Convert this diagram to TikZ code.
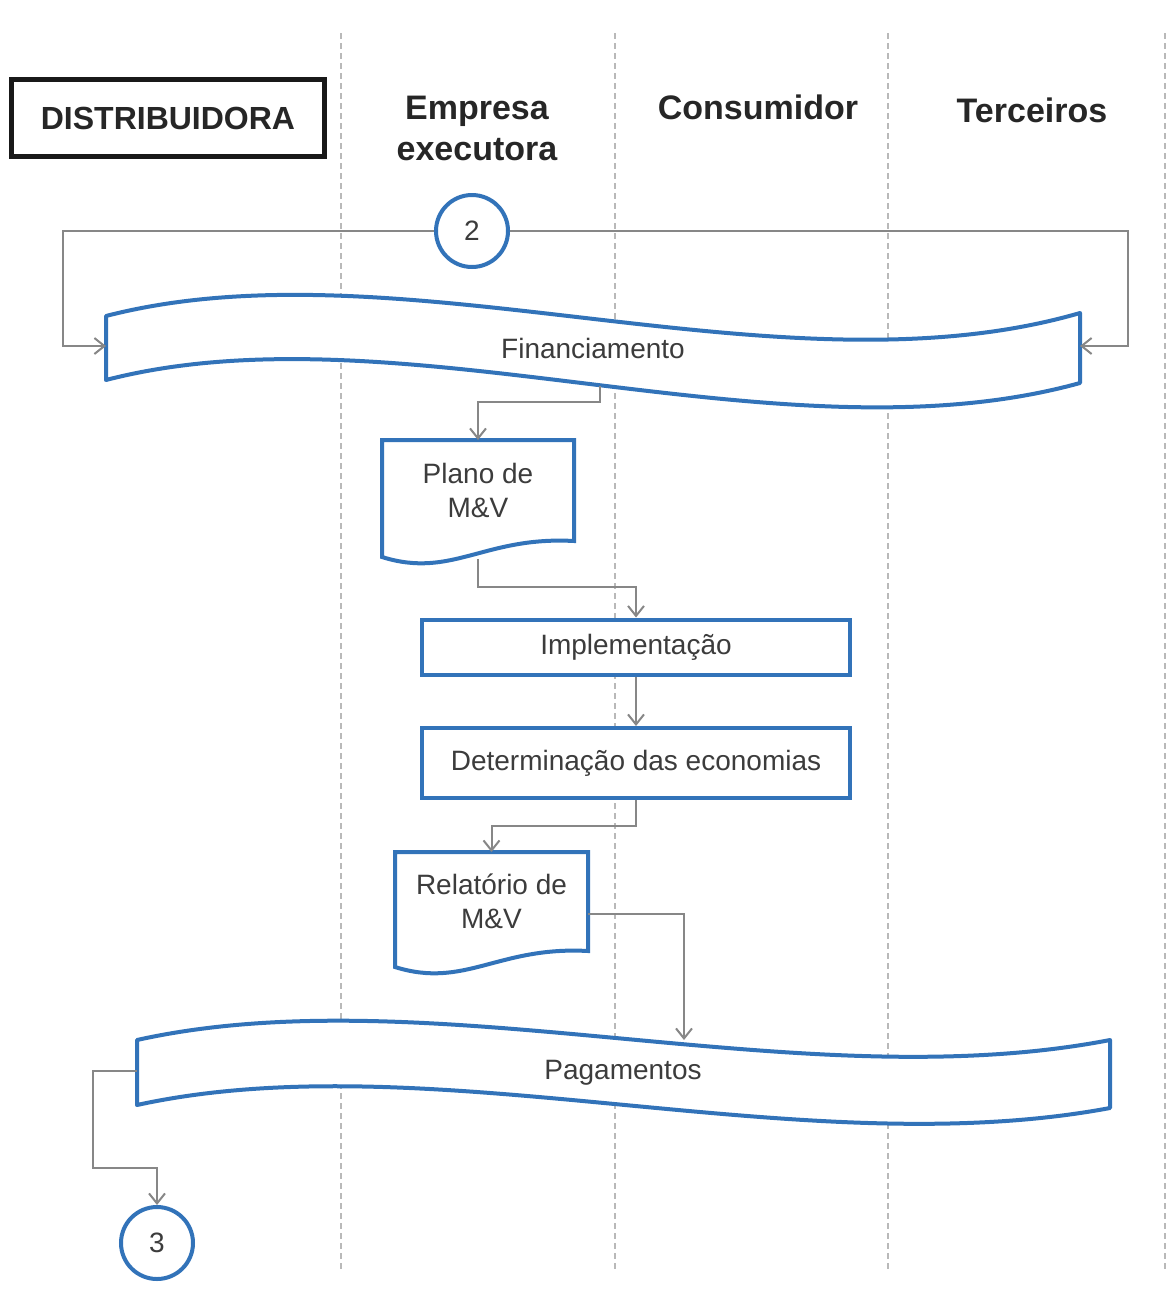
\documentclass[tikz,border=0pt]{standalone}
\usepackage{fontspec}
\setmainfont{Liberation Sans}
\usetikzlibrary{arrows.meta}
\definecolor{flowblue}{RGB}{50,115,185}
\definecolor{linegray}{RGB}{135,135,135}
\definecolor{textgray}{RGB}{60,60,60}
\tikzset{
  lane/.style={draw=gray!55, line width=1.5pt, dash pattern=on 6pt off 4pt},
  title/.style={font=\bfseries\fontsize{34}{41}\selectfont, text=black!85},
  titlebox/.style={title, draw=black!90, line width=5pt, minimum width=313pt, minimum height=77pt, font=\bfseries\fontsize{32}{38}\selectfont},
  lbl/.style={font=\fontsize{28}{34}\selectfont, text=textgray},
  band/.style={draw=flowblue, line width=4pt, fill=white, line join=round},
  box/.style={draw=flowblue, line width=4pt, fill=white},
  proc/.style={box, lbl, rectangle, minimum width=428pt, minimum height=55pt},
  conn/.style={circle, draw=flowblue, line width=4pt, fill=white, minimum size=72pt, inner sep=0pt, font=\fontsize{28}{32}\selectfont, text=textgray},
  flow/.style={draw=linegray, line width=2pt, -{Straight Barb[length=10pt,width=16pt]}}
}
\newcommand{\lane}[1]{\draw[lane] (#1,33) -- (#1,1272);}
% document shape: name, left, top, right, bottom, text
\newcommand{\docbox}[6]{%
  \draw[box] (#2,#3) -- (#4,#3) -- (#4,#5-16) .. controls (#4-90,#5-21) and (#2+70,#5+22) .. (#2,#5) -- cycle;
  \node[lbl, align=center] (#1) at ({(#2+#4)/2},{(#3+#5)/2-8}) {#6};
  \coordinate (#1-n) at ({(#2+#4)/2},#3);
  \coordinate (#1-s) at ({(#2+#4)/2},#5+2);
  \coordinate (#1-e) at (#4,{(#3+#5)/2+4});}

\begin{document}
\begin{tikzpicture}[x=1pt,y=-1pt]
\useasboundingbox (0,0) rectangle (1169,1312);
% swimlane separators
\lane{341} \lane{615} \lane{888} \lane{1165}
% lane headers
\node[titlebox] (distr) at (168,118) {DISTRIBUIDORA};
\node[title, align=center] (empr) at (477,128) {Empresa\\executora};
\node[title] (cons) at (758,107) {Consumidor};
\node[title] (terc) at (1032,110) {Terceiros};
% connector 2
\node[conn] (c2) at (472,231) {2};
% financing band
\draw[band] (106,316) .. controls (400,240) and (780,400) .. (1080,313) -- (1080,383) .. controls (780,466) and (400,304) .. (106,380) -- cycle;
\node[lbl] (fin) at (593,348) {Financiamento};
\coordinate (fin-w) at (106,346);
\coordinate (fin-e) at (1080,346);
\coordinate (fin-s) at (600,386);
% documents and steps
\docbox{plano}{382}{440}{574}{557}{Plano de\\M\&V}
\node[proc] (impl) at (636,647) {Implementação};
\node[proc, minimum height=70pt] (det) at (636,763) {Determinação das economias};
\docbox{rel}{395}{852}{588}{967}{Relatório de\\M\&V}
% payments band
\draw[band] (137,1040) .. controls (430,975) and (800,1100) .. (1110,1040) -- (1110,1108) .. controls (800,1166) and (430,1041) .. (137,1105) -- cycle;
\node[lbl] (pag) at (623,1073) {Pagamentos};
\coordinate (pag-w) at (137,1071);
\coordinate (pag-n) at (684,1040);
% connector 3
\node[conn] (c3) at (157,1243) {3};
% flow lines
\draw[flow] (c2.west) -- ++(-371,0) |- (fin-w);
\draw[flow] (c2.east) -- ++(618,0) |- (fin-e);
\draw[flow] (fin-s) -- ++(0,16) -| (plano-n);
\draw[flow] (plano-s) -- ++(0,28) -| (impl.north);
\draw[flow] (impl) -- (det);
\draw[flow] (det.south) -- ++(0,26) -| (rel-n);
\draw[flow] (rel-e) -| (pag-n);
\draw[flow] (pag-w) -- ++(-44,0) -- ++(0,97) -| (c3.north);
\end{tikzpicture}
\end{document}
